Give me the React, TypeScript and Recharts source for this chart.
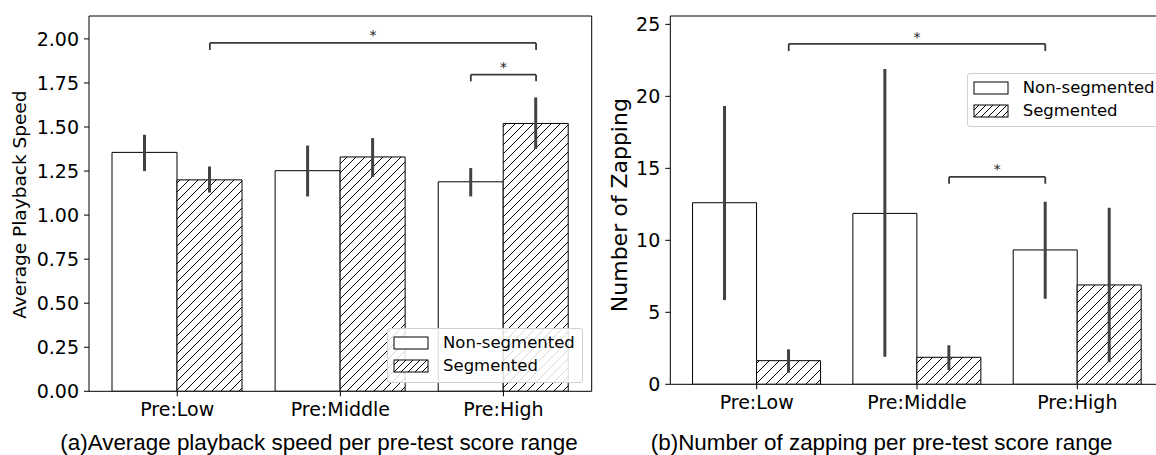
import React from 'react';
import { BarChart, Bar, XAxis, YAxis, ErrorBar, ReferenceLine, ReferenceDot, Legend } from 'recharts';

const categories = ['Pre:Low', 'Pre:Middle', 'Pre:High'];
const seriesNames = ['Non-segmented', 'Segmented'];

// (a) Average playback speed
const speedNonSeg = [1.356, 1.252, 1.189];
const speedNonSegLow = [1.25, 1.106, 1.106];
const speedNonSegHigh = [1.456, 1.395, 1.267];
const speedSeg = [1.2, 1.33, 1.52];
const speedSegLow = [1.128, 1.216, 1.375];
const speedSegHigh = [1.276, 1.437, 1.668];
const speedTicks = [0, 0.25, 0.5, 0.75, 1.0, 1.25, 1.5, 1.75, 2.0];
const speedMax = 2.13;

// (b) Number of zapping
const zapNonSeg = [12.61, 11.87, 9.33];
const zapNonSegLow = [5.85, 1.92, 5.94];
const zapNonSegHigh = [19.33, 21.9, 12.68];
const zapSeg = [1.64, 1.875, 6.9];
const zapSegLow = [0.81, 0.99, 1.53];
const zapSegHigh = [2.43, 2.71, 12.26];
const zapTicks = [0, 5, 10, 15, 20, 25];
const zapMax = 25.58;

// significance brackets: from/to = [categoryIndex, seriesIndex]
const speedBrackets = [
  { from: [0, 1], to: [2, 1], y: 1.977, drop: 0.04, starY: 2.021, label: '*' },
  { from: [2, 0], to: [2, 1], y: 1.797, drop: 0.038, starY: 1.841, label: '*' },
];
const zapBrackets = [
  { from: [0, 1], to: [2, 0], y: 23.65, drop: 0.5, starY: 24.15, label: '*' },
  { from: [1, 1], to: [2, 0], y: 14.4, drop: 0.47, starY: 14.98, label: '*' },
];

const captions = [
  '(a)Average playback speed per pre-test score range',
  '(b)Number of zapping per pre-test score range',
];

const FONT = "'DejaVu Sans', sans-serif";
const CAP_FONT = "'Liberation Sans', Arial, sans-serif";
const ERR_COLOR = '#424242';
const BRACKET_COLOR = '#3a3a3a';
const TICK_FONT_SIZE = 19;

function buildRows(ns: number[], nsLo: number[], nsHi: number[], s: number[], sLo: number[], sHi: number[]) {
  return categories.map((cat, i) => ({
    cat,
    pos: i,
    ns: ns[i],
    s: s[i],
    nsErr: [ns[i] - nsLo[i], nsHi[i] - ns[i]],
    sErr: [s[i] - sLo[i], sHi[i] - s[i]],
  }));
}

const speedRows = buildRows(speedNonSeg, speedNonSegLow, speedNonSegHigh, speedSeg, speedSegLow, speedSegHigh);
const zapRows = buildRows(zapNonSeg, zapNonSegLow, zapNonSegHigh, zapSeg, zapSegLow, zapSegHigh);

const YLabel = (props: any) => {
  const { viewBox, text, cx, fontSize, dy } = props;
  const cy = (viewBox ? viewBox.y + viewBox.height / 2 : 200) + (dy || 0);
  return (
    <text
      x={cx}
      y={cy}
      transform={`rotate(-90, ${cx}, ${cy})`}
      textAnchor="middle"
      dominantBaseline="central"
      fontFamily={FONT}
      fontSize={fontSize}
      fill="#000"
    >
      {text}
    </text>
  );
};

const StarLabel = (props: any) => {
  const { viewBox, value } = props;
  if (!viewBox) return null;
  const x = viewBox.x + (viewBox.width || 0) / 2;
  const y = viewBox.y + (viewBox.height || 0) / 2;
  return (
    <text x={x} y={y + 0.355 * 14} textAnchor="middle" fontFamily={FONT} fontSize={14} fill="#222">
      {value}
    </text>
  );
};

const LegendBox = (props: any) => {
  const { hatchId } = props;
  return (
    <div
      style={{
        position: 'relative',
        width: '100%',
        height: '100%',
        boxSizing: 'border-box',
        border: '1px solid #d0d0d0',
        borderRadius: 3,
        background: 'rgba(255,255,255,0.85)',
        fontFamily: FONT,
        fontSize: 16.5,
        color: '#000',
      }}
    >
      {seriesNames.map((name, i) => (
        <div key={name} style={{ position: 'absolute', left: 5, top: 7 + i * 23.3, height: 14, display: 'flex', alignItems: 'center' }}>
          <svg width={36} height={14} style={{ display: 'block' }}>
            <defs>
              <pattern id={`${hatchId}-leg`} patternUnits="userSpaceOnUse" width={7} height={7}>
                <rect width={7} height={7} fill="#fff" />
                <path d="M-1,1 l2,-2 M0,7 l7,-7 M6,8 l2,-2" stroke="#000" strokeWidth={1} />
              </pattern>
            </defs>
            <rect x={1} y={1} width={34} height={12} fill={i === 0 ? '#fff' : `url(#${hatchId}-leg)`} stroke="#000" strokeWidth={1} />
          </svg>
          <span style={{ marginLeft: 14, lineHeight: '14px', whiteSpace: 'nowrap' }}>{name}</span>
        </div>
      ))}
    </div>
  );
};

type PanelProps = {
  rows: any[];
  ticks: number[];
  maxY: number;
  fmt: (v: number) => string;
  yLabel: string;
  yLabelX: number;
  yLabelSize: number;
  yLabelDy: number;
  brackets: any[];
  hatchId: string;
  width: number;
  height: number;
  yAxisWidth: number;
  marginRight: number;
  xAxisHeight: number;
  padX: number;
  legendStyle: any;
  hatchSize: number;
};

function Panel(p: PanelProps) {
  const plotWidth = p.width - p.yAxisWidth - p.marginRight;
  const band = (plotWidth - 2 * p.padX) / categories.length;
  const padUnits = p.padX / band;
  const numDomain = [-0.5 - padUnits, categories.length - 0.5 + padUnits];
  const barCenter = (pt: number[]) => pt[0] + (pt[1] === 0 ? -0.2 : 0.2);
  const hs = p.hatchSize;
  return (
    <BarChart
      width={p.width}
      height={p.height}
      data={p.rows}
      margin={{ top: 16, right: p.marginRight, bottom: 0, left: 0 }}
      barCategoryGap="10%"
      barGap={0}
    >
      <defs>
        <pattern id={p.hatchId} patternUnits="userSpaceOnUse" width={hs} height={hs}>
          <rect width={hs} height={hs} fill="#fff" />
          <path d={`M-1,1 l2,-2 M0,${hs} l${hs},-${hs} M${hs - 1},${hs + 1} l2,-2`} stroke="#000" strokeWidth={1} />
        </pattern>
      </defs>
      <XAxis
        dataKey="cat"
        xAxisId={0}
        height={p.xAxisHeight}
        padding={{ left: p.padX, right: p.padX }}
        tickSize={5}
        tickMargin={6}
        tickLine={{ stroke: '#000' }}
        axisLine={{ stroke: '#000' }}
        tick={{ fontFamily: FONT, fontSize: TICK_FONT_SIZE, fill: '#000' }}
        interval={0}
      />
      <XAxis
        xAxisId="num"
        dataKey="pos"
        type="number"
        domain={numDomain}
        allowDataOverflow
        hide
      />
      <YAxis
        yAxisId={0}
        width={p.yAxisWidth}
        domain={[0, p.maxY]}
        ticks={p.ticks}
        allowDataOverflow
        tickFormatter={p.fmt}
        tickSize={5}
        tickMargin={5}
        tickLine={{ stroke: '#000' }}
        axisLine={{ stroke: '#000' }}
        tick={{ fontFamily: FONT, fontSize: TICK_FONT_SIZE, fill: '#000' }}
        label={<YLabel text={p.yLabel} cx={p.yLabelX} fontSize={p.yLabelSize} dy={p.yLabelDy} />}
      />
      <ReferenceLine xAxisId={0} yAxisId={0} y={p.maxY} stroke="#000" strokeWidth={1} ifOverflow="visible" />
      <ReferenceLine xAxisId="num" yAxisId={0} x={numDomain[1]} stroke="#000" strokeWidth={1} ifOverflow="visible" />
      <Bar dataKey="ns" name={seriesNames[0]} xAxisId={0} yAxisId={0} fill="#fff" stroke="#000" strokeWidth={1} isAnimationActive={false}>
        <ErrorBar dataKey="nsErr" width={0} stroke={ERR_COLOR} strokeWidth={3} direction="y" />
      </Bar>
      <Bar dataKey="s" name={seriesNames[1]} xAxisId={0} yAxisId={0} fill={`url(#${p.hatchId})`} stroke="#000" strokeWidth={1} isAnimationActive={false}>
        <ErrorBar dataKey="sErr" width={0} stroke={ERR_COLOR} strokeWidth={3} direction="y" />
      </Bar>
      {p.brackets.map((b, i) => {
        const x1 = barCenter(b.from);
        const x2 = barCenter(b.to);
        return (
          <React.Fragment key={`br${i}`}>
            <ReferenceLine xAxisId="num" yAxisId={0} segment={[{ x: x1, y: b.y }, { x: x2, y: b.y }]} stroke={BRACKET_COLOR} strokeWidth={1.8} ifOverflow="visible" />
            <ReferenceLine xAxisId="num" yAxisId={0} segment={[{ x: x1, y: b.y }, { x: x1, y: b.y - b.drop }]} stroke={BRACKET_COLOR} strokeWidth={1.8} ifOverflow="visible" />
            <ReferenceLine xAxisId="num" yAxisId={0} segment={[{ x: x2, y: b.y }, { x: x2, y: b.y - b.drop }]} stroke={BRACKET_COLOR} strokeWidth={1.8} ifOverflow="visible" />
            <ReferenceDot
              xAxisId="num"
              yAxisId={0}
              x={(x1 + x2) / 2}
              y={b.starY}
              r={0}
              fill="none"
              stroke="none"
              ifOverflow="visible"
              label={<StarLabel value={b.label} />}
            />
          </React.Fragment>
        );
      })}
      <Legend
        layout="vertical"
        align="center"
        verticalAlign="middle"
        wrapperStyle={p.legendStyle}
        content={<LegendBox hatchId={p.hatchId} />}
      />
    </BarChart>
  );
}

export default function App() {
  return (
    <div style={{ position: 'absolute', left: 0, top: 0, width: 1156, height: 455, overflow: 'hidden', background: '#fff' }}>
      <div style={{ position: 'absolute', left: 0, top: 0 }}>
        <Panel
          rows={speedRows}
          ticks={speedTicks}
          maxY={speedMax}
          fmt={(v) => v.toFixed(2)}
          yLabel="Average Playback Speed"
          yLabelX={19.5}
          yLabelSize={18.5}
          yLabelDy={1}
          brackets={speedBrackets}
          hatchId="hatchA"
          width={600}
          height={420}
          yAxisWidth={89}
          marginRight={8.3}
          xAxisHeight={28.7}
          padX={6.7}
          hatchSize={9}
          legendStyle={{ left: 387, top: 328, width: 196, height: 55, position: 'absolute' }}
        />
      </div>
      <div style={{ position: 'absolute', left: 570, top: 0 }}>
        <Panel
          rows={zapRows}
          ticks={zapTicks}
          maxY={zapMax}
          fmt={(v) => String(v)}
          yLabel="Number of Zapping"
          yLabelX={49.5}
          yLabelSize={22}
          yLabelDy={5}
          brackets={zapBrackets}
          hatchId="hatchB"
          width={600}
          height={420}
          yAxisWidth={100.3}
          marginRight={6.3}
          xAxisHeight={35.7}
          padX={6.2}
          hatchSize={10}
          legendStyle={{ left: 396.7, top: 72.7, width: 196, height: 54, position: 'absolute' }}
        />
      </div>
      <svg width={1156} height={455} style={{ position: 'absolute', left: 0, top: 0, pointerEvents: 'none' }}>
        <text x={319} y={450} textAnchor="middle" fontFamily={CAP_FONT} fontSize={22.4} fill="#000">{captions[0]}</text>
        <text x={881.7} y={450} textAnchor="middle" fontFamily={CAP_FONT} fontSize={22.4} fill="#000">{captions[1]}</text>
      </svg>
    </div>
  );
}
